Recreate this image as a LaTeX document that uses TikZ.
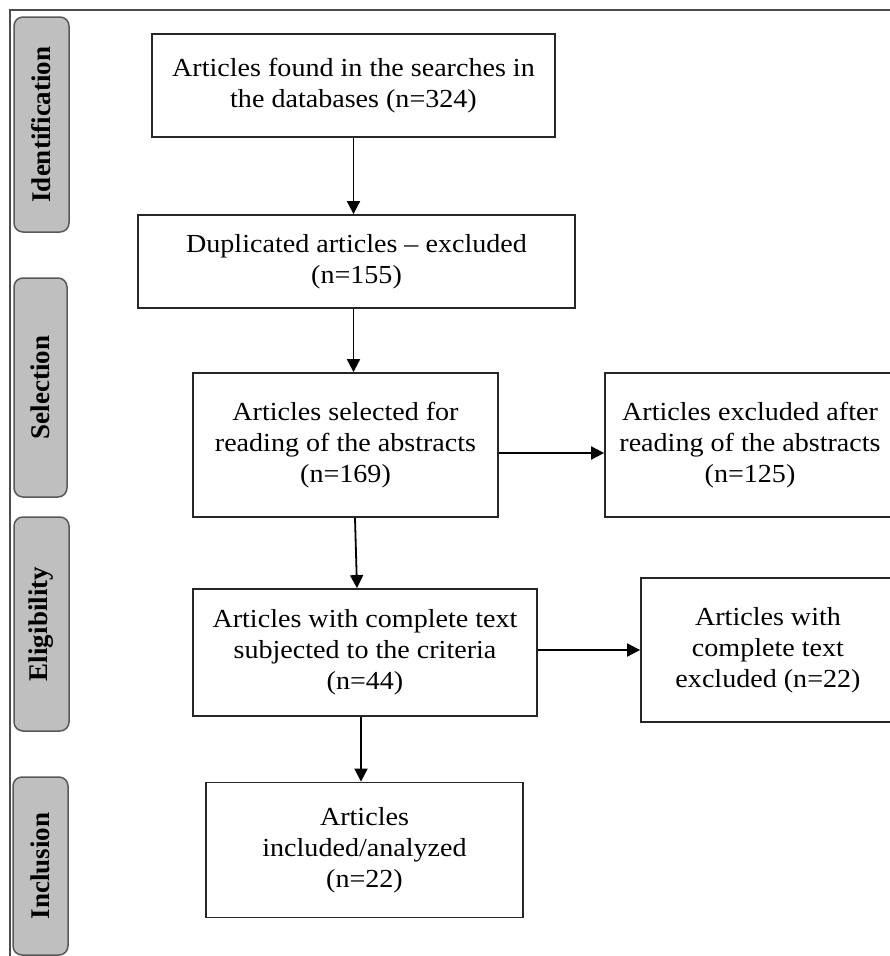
\documentclass[tikz,border=0pt]{standalone}
\usepackage{fontspec}
\usepackage{graphicx}
\setmainfont{Liberation Serif}
\usetikzlibrary{arrows.meta,calc}
\newcommand{\sx}[1]{\scalebox{1.08}[1]{#1}}
\begin{document}
\begin{tikzpicture}[x=1pt,y=-1pt,
  flowbox/.style={draw=black!85,line width=1.8pt,align=center,inner sep=0pt,
    font=\fontsize{26}{31}\selectfont},
  phase/.style={draw=black!65,fill=black!25,line width=1.5pt,rounded corners=9pt,
    rotate=90,inner sep=0pt,font=\fontsize{27}{31}\selectfont\bfseries},
  arr/.style={line width=1.8pt,-{Triangle[length=13pt,width=13pt]}},
  framecol/.style={draw=black!70,line width=1.5pt}]
\useasboundingbox (0,0) rectangle (890,956);
\clip (0,0) rectangle (890,956);
\draw[framecol] (10,956) -- (10,10) -- (890,10);
% phase labels
\node[phase,minimum width=215,minimum height=55] (pid) at (41.5,124.5) {Identification};
\node[phase,minimum width=219,minimum height=53] (psel) at (40.5,387.5) {Selection};
\node[phase,minimum width=214,minimum height=55] (pel) at (41.5,624) {Eligibility};
\node[phase,minimum width=178,minimum height=55] (pin) at (40.5,866) {Inclusion};
% boxes
\node[flowbox,minimum width=403,minimum height=103] (b1) at (353.5,85.5)
  {\sx{Articles found in the searches in}\\\sx{the databases (n=324)}};
\node[flowbox,minimum width=437,minimum height=93] (b2) at (356.5,261.5)
  {\sx{Duplicated articles -- excluded}\\\sx{(n=155)}};
\node[flowbox,minimum width=305,minimum height=144] (b3) at (345.5,445)
  {\sx{Articles selected for}\\\sx{reading of the abstracts}\\\sx{(n=169)}};
\node[flowbox,minimum width=290,minimum height=144] (b4) at (750,445)
  {\sx{Articles excluded after}\\\sx{reading of the abstracts}\\\sx{(n=125)}};
\node[flowbox,minimum width=344,minimum height=127] (b5) at (365,652.5)
  {\sx{Articles with complete text}\\\sx{subjected to the criteria}\\\sx{(n=44)}};
\node[flowbox,minimum width=254,minimum height=144] (b6) at (768,650)
  {\sx{Articles with}\\\sx{complete text}\\\sx{excluded (n=22)}};
\node[flowbox,minimum width=317,minimum height=135] (b7) at (364.5,850)
  {\sx{Articles}\\\sx{included/analyzed}\\\sx{(n=22)}};
% arrows
\draw[arr] (b1.south) -- (b1.south |- b2.north);
\draw[arr] (b2.south -| b1.south) -- (b3.north -| b1.south);
\draw[arr] ([yshift=-8pt]b3.east) -- ([yshift=-8pt]b4.west);
\draw[arr] ([xshift=9.5pt]b3.south) -- ([xshift=-8pt]b5.north);
\draw[arr] (b5.east |- b6.west) -- (b6.west);
\draw[arr] ([xshift=-4pt]b5.south) -- ([xshift=-3.5pt]b7.north);
\end{tikzpicture}
\end{document}
